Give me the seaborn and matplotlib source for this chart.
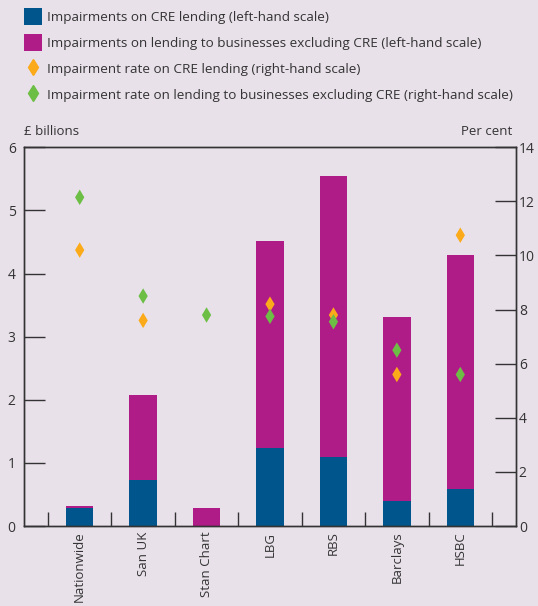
import seaborn as sns
import matplotlib.pyplot as plt
import pandas as pd
from matplotlib.patches import Patch
from matplotlib.lines import Line2D

# Data
banks = ['Nationwide', 'San UK', 'Stan Chart', 'LBG', 'RBS', 'Barclays', 'HSBC']
cre_impairments = [0.28, 0.73, 0.0, 1.24, 1.09, 0.39, 0.58]          # £ billions
business_ex_cre_impairments = [0.03, 1.34, 0.28, 3.27, 4.46, 2.92, 3.71]  # £ billions
cre_rate = [10.2, 7.6, None, 8.2, 7.8, 5.6, 10.75]                 # per cent
business_ex_cre_rate = [12.15, 8.5, 7.8, 7.75, 7.55, 6.5, 5.6]     # per cent

blue = '#00568C'
magenta = '#B01C87'
orange = '#FBAA19'
green = '#6DBE45'
bg = '#E9E1EA'
txt = '#333333'

df = pd.DataFrame({
    'bank': banks,
    'cre': cre_impairments,
    'other': business_ex_cre_impairments,
    'cre_rate': cre_rate,
    'other_rate': business_ex_cre_rate,
})
df['total'] = df['cre'] + df['other']

sns.set_theme(style='ticks')
plt.rcParams['font.family'] = ['Open Sans', 'DejaVu Sans']
plt.rcParams['text.color'] = txt
plt.rcParams['axes.edgecolor'] = txt
plt.rcParams['xtick.color'] = txt
plt.rcParams['ytick.color'] = txt

fig = plt.figure(figsize=(5.38, 6.06), dpi=100, facecolor=bg)
ax = fig.add_axes([0.0446, 0.132, 0.9145, 0.625])
ax.set_facecolor(bg)

# stacked bars: total in magenta, CRE part in blue over it
sns.barplot(data=df, x='bank', y='total', color=magenta, width=0.43,
            saturation=1, ax=ax, order=banks)
sns.barplot(data=df, x='bank', y='cre', color=blue, width=0.43,
            saturation=1, ax=ax, order=banks)
for p in ax.patches:
    p.set_linewidth(0)

ax.set_ylim(0, 6)
ax.set_yticks(range(0, 7))
ax.set_xlim(-0.878, 6.878)
ax.set_xticks([i - 0.5 for i in range(len(banks) + 1)])
ax.set_xticklabels([])
ax.set_xticks(range(len(banks)), minor=True)
ax.set_xticklabels(banks, minor=True, rotation=90, fontsize=9.5, va='top')
ax.tick_params(axis='x', which='major', direction='in', length=10, width=1)
ax.tick_params(axis='x', which='minor', length=0, pad=4)
ax.tick_params(axis='y', direction='in', length=15, width=1, labelsize=10, pad=6)
ax.set_xlabel('')
ax.set_ylabel('')
for s in ax.spines.values():
    s.set_linewidth(1)
    s.set_visible(True)

# right-hand scale with rates
ax2 = ax.twinx()
rates = df.melt(id_vars='bank', value_vars=['cre_rate', 'other_rate'],
                var_name='series', value_name='rate').dropna()
rates['pos'] = rates['bank'].map({b: i for i, b in enumerate(banks)})
sns.scatterplot(data=rates, x='pos', y='rate', hue='series',
                palette={'cre_rate': orange, 'other_rate': green},
                marker='d', s=62, linewidth=0, ax=ax2, legend=False)
ax2.set_ylim(0, 14)
ax2.set_yticks(range(0, 15, 2))
ax2.set_xlim(-0.878, 6.878)
ax2.tick_params(axis='y', direction='in', length=15, width=1, labelsize=10, pad=2)
ax2.set_xlabel('')
ax2.set_ylabel('')
for s in ax2.spines.values():
    s.set_linewidth(1)

fig.text(0.0446, 0.772, '£ billions', fontsize=9.5, ha='left', va='bottom')
fig.text(0.953, 0.772, 'Per cent', fontsize=9.5, ha='right', va='bottom')

handles = [
    Patch(facecolor=blue, edgecolor='none'),
    Patch(facecolor=magenta, edgecolor='none'),
    Line2D([], [], marker='d', color=orange, linestyle='none', markersize=8),
    Line2D([], [], marker='d', color=green, linestyle='none', markersize=8),
]
labels = [
    'Impairments on CRE lending (left-hand scale)',
    'Impairments on lending to businesses excluding CRE (left-hand scale)',
    'Impairment rate on CRE lending (right-hand scale)',
    'Impairment rate on lending to businesses excluding CRE (right-hand scale)',
]
fig.legend(handles, labels, loc='upper left', bbox_to_anchor=(0.03, 1.0),
           frameon=False, fontsize=9.7, handlelength=1.3, handleheight=1.5,
           handletextpad=0.4, labelspacing=0.72, borderaxespad=0.2)

fig.savefig('out.png', dpi=100, facecolor=bg)
